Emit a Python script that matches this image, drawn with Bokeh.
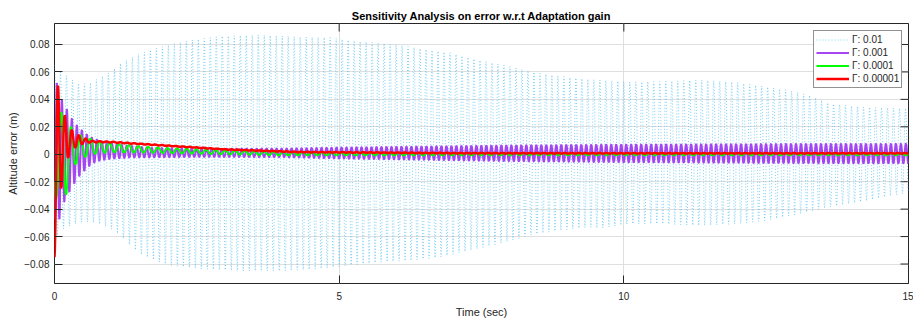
import numpy as np
from bokeh.plotting import figure
from bokeh.models import Range1d, FixedTicker, Legend, LegendItem
from bokeh.embed import file_html
from bokeh.resources import INLINE

# ---- data: envelope knots (time in s, error in m) of each response ----
# adaptation gain 0.01
cyan_up_t = [0, 0.03, 0.1, 0.275, 0.45, 0.63, 0.8, 0.98, 1.15, 1.42, 1.68, 2.03, 2.38, 2.91, 3.61,
             4.31, 4.84, 5.19, 5.71, 6.07, 6.42, 6.94, 7.47, 7.99, 8.52, 9.05, 9.57, 10.1, 10.63,
             11.33, 11.85, 12.38, 12.9, 13.26, 13.61, 14.14, 14.84, 15.0]
cyan_up_v = [0.065, 0.065, 0.061, 0.055, 0.051, 0.052, 0.056, 0.060, 0.066, 0.072, 0.076, 0.080,
             0.083, 0.086, 0.087, 0.0855, 0.085, 0.083, 0.081, 0.0795, 0.077, 0.074, 0.0685, 0.064,
             0.059, 0.056, 0.054, 0.0527, 0.053, 0.054, 0.053, 0.050, 0.0466, 0.043, 0.037, 0.0345,
             0.0335, 0.0335]
cyan_lo_t = [0, 0.04, 0.1, 0.275, 0.45, 0.63, 0.8, 0.98, 1.15, 1.33, 1.5, 1.77, 2.03, 2.56, 3.26,
             3.96, 4.13, 4.66, 5.18, 5.71, 6.24, 6.77, 7.3, 7.82, 8.35, 8.87, 9.4, 9.57, 10.1, 10.63,
             11.33, 12.0, 12.55, 13.08, 13.61, 14.31, 14.84, 15.0]
cyan_lo_v = [-0.063, -0.060, -0.0555, -0.052, -0.0495, -0.0495, -0.051, -0.054, -0.059, -0.0665,
             -0.0726, -0.0775, -0.081, -0.0835, -0.085, -0.085, -0.0847, -0.0835, -0.081, -0.0787,
             -0.0775, -0.075, -0.070, -0.065, -0.059, -0.0555, -0.053, -0.054, -0.0507, -0.0507,
             -0.052, -0.0507, -0.048, -0.0434, -0.0385, -0.0336, -0.029, -0.028]
cyan_freq, cyan_peak = 9.5, 0.0

# adaptation gain 0.001
purple_up_t = [0, 0.042, 0.13, 0.22, 0.31, 0.40, 0.49, 0.58, 0.67, 0.8, 1.1, 1.68, 2.56, 4.0, 5.0,
               8.0, 10.0, 13.0, 15.0]
purple_up_v = [0.0527, 0.0527, 0.0406, 0.033, 0.026, 0.021, 0.0175, 0.0143, 0.012, 0.010, 0.0072,
               0.0048, 0.0041, 0.0042, 0.0050, 0.0066, 0.0072, 0.0077, 0.0078]
purple_lo_t = [0, 0.086, 0.174, 0.26, 0.35, 0.44, 0.53, 0.62, 0.71, 0.8, 0.98, 1.33, 2.56, 4.0, 5.0,
               8.0, 10.0, 13.0, 15.0]
purple_lo_v = [-0.048, -0.048, -0.035, -0.028, -0.0215, -0.016, -0.012, -0.0085, -0.006, -0.0048,
               -0.0035, -0.0025, -0.002, -0.0022, -0.0032, -0.0052, -0.0060, -0.0067, -0.0068]
purple_freq, purple_peak = 11.4, 0.042

# adaptation gain 0.0001
green_up_t = [0, 0.121, 0.29, 0.46, 0.63, 0.8, 1.0, 1.5, 2.0, 3.0, 4.0, 6.0, 9.0, 15.0]
green_up_v = [0.030, 0.031, 0.020, 0.0138, 0.0114, 0.0095, 0.008, 0.0058, 0.0045, 0.0029, 0.0018,
              0.0010, 0.0008, 0.0007]
green_lo_t = [0, 0.036, 0.205, 0.375, 0.544, 0.714, 1.0, 1.5, 2.0, 3.0, 4.0, 6.0, 9.0, 15.0]
green_lo_v = [-0.050, -0.030, -0.030, -0.007, -0.002, 0.0004, 0.0014, 0.0012, 0.0009, 0.0,
              -0.0008, -0.0008, -0.0008, -0.0008]
green_freq, green_peak = 5.9, 0.29

# adaptation gain 0.00001
red_up_t = [0, 0.061, 0.183, 0.305, 0.427, 0.549, 0.67, 1.0, 2.0, 3.0, 4.3, 7.0, 10.0, 15.0]
red_up_v = [0.050, 0.050, 0.028, 0.0175, 0.0138, 0.0114, 0.0097, 0.0092, 0.0064, 0.0037, 0.0018,
            0.0010, 0.0009, 0.0009]
red_lo_t = [0, 0.122, 0.244, 0.366, 0.488, 0.61, 0.8, 1.0, 2.0, 3.0, 4.3, 7.0, 10.0, 15.0]
red_lo_v = [-0.075, -0.024, -0.002, 0.005, 0.0075, 0.0085, 0.0087, 0.0086, 0.006, 0.0034, 0.0014,
            0.0006, 0.0005, 0.0005]
red_freq, red_peak = 8.2, 0.061

legend_labels = ["Γ: 0.01", "Γ: 0.001", "Γ: 0.0001", "Γ: 0.00001"]
x_ticks = [0, 5, 10, 15]
y_ticks = [-0.08, -0.06, -0.04, -0.02, 0, 0.02, 0.04, 0.06, 0.08]
x_lim = (0, 15)
y_lim = (-0.0942, 0.0953)


def response(up_t, up_v, lo_t, lo_v, freq, t_peak, per_cycle=16):
    """Oscillation between an upper and a lower envelope."""
    t = np.linspace(0, 15, int(15 * freq * per_cycle) + 1)
    upper = np.interp(t, up_t, up_v)
    lower = np.interp(t, lo_t, lo_v)
    mid = 0.5 * (upper + lower)
    half = 0.5 * (upper - lower)
    return t, mid + half * np.cos(2 * np.pi * freq * (t - t_peak))


FONT = "Liberation Sans"
AX = "#262626"

p = figure(width=913, height=320, output_backend="svg", toolbar_location=None,
           x_range=Range1d(*x_lim), y_range=Range1d(*y_lim),
           min_border_left=54, min_border_right=5, min_border_top=23, min_border_bottom=37,
           x_axis_label="Time (sec)", y_axis_label="Altitude error (m)")
p.background_fill_color = "white"
p.outline_line_color = AX
p.outline_line_width = 1

# grid
for g, ticks in ((p.xgrid, x_ticks), (p.ygrid, y_ticks)):
    g.ticker = FixedTicker(ticks=ticks)
    g.grid_line_color = "#dfdfdf"
    g.grid_line_width = 1

# axes with ticks pointing inwards
for ax, ticks in ((p.xaxis[0], x_ticks), (p.yaxis[0], y_ticks)):
    ax.ticker = FixedTicker(ticks=ticks)
    ax.major_tick_in = 8
    ax.major_tick_out = 0
    ax.minor_tick_in = 0
    ax.minor_tick_out = 0
    ax.major_tick_line_color = AX
    ax.axis_line_color = None
    ax.major_label_text_font = FONT
    ax.major_label_text_font_size = "10px"
    ax.major_label_text_color = AX
    ax.axis_label_text_font = FONT
    ax.axis_label_text_font_size = "11px"
    ax.axis_label_text_font_style = "normal"
    ax.axis_label_text_color = AX
p.xaxis[0].major_label_standoff = 8
p.xaxis[0].axis_label_standoff = 3
p.yaxis[0].major_label_standoff = 5
p.yaxis[0].axis_label_standoff = 2

# box ticks along the top and right edges (half of each dash is clipped by the frame)
p.scatter([x_lim[1]] * len(y_ticks), y_ticks, marker="dash", size=16, line_color=AX, line_width=1)
p.scatter(x_ticks, [y_lim[1]] * len(x_ticks), marker="dash", angle=np.pi / 2, size=16,
          line_color=AX, line_width=1)

# title
p.title.text = "Sensitivity Analysis on error w.r.t Adaptation gain"
p.title.align = "center"
p.title.text_font = FONT
p.title.text_font_size = "11px"
p.title.text_font_style = "bold"
p.title.text_color = "black"
p.title.standoff = 4

# responses
t1, y1 = response(cyan_up_t, cyan_up_v, cyan_lo_t, cyan_lo_v, cyan_freq, cyan_peak)
t2, y2 = response(purple_up_t, purple_up_v, purple_lo_t, purple_lo_v, purple_freq, purple_peak)
t3, y3 = response(green_up_t, green_up_v, green_lo_t, green_lo_v, green_freq, green_peak)
t4, y4 = response(red_up_t, red_up_v, red_lo_t, red_lo_v, red_freq, red_peak, per_cycle=24)

r1 = p.line(t1, y1, line_color="#4dbeee", line_width=0.8, line_dash="1 2", line_alpha=0.9)
r2 = p.line(t2, y2, line_color="#a646f2", line_width=2)
r3 = p.line(t3, y3, line_color="#00ff00", line_width=2)
r4 = p.line(t4, y4, line_color="#ff0000", line_width=2.5)

legend = Legend(items=[LegendItem(label=lab, renderers=[r]) for lab, r in
                       zip(legend_labels, (r1, r2, r3, r4))],
                location=(759, 195))
legend.glyph_width = 33
legend.glyph_height = 13
legend.label_height = 13
legend.label_standoff = 3
legend.padding = 2
legend.spacing = 0
legend.margin = 0
legend.label_text_font = FONT
legend.label_text_font_size = "10px"
legend.label_text_color = AX
legend.border_line_color = AX
legend.border_line_width = 1
legend.background_fill_color = "white"
legend.background_fill_alpha = 1
p.add_layout(legend, "center")

open("out.html", "w").write(file_html(p, INLINE))
